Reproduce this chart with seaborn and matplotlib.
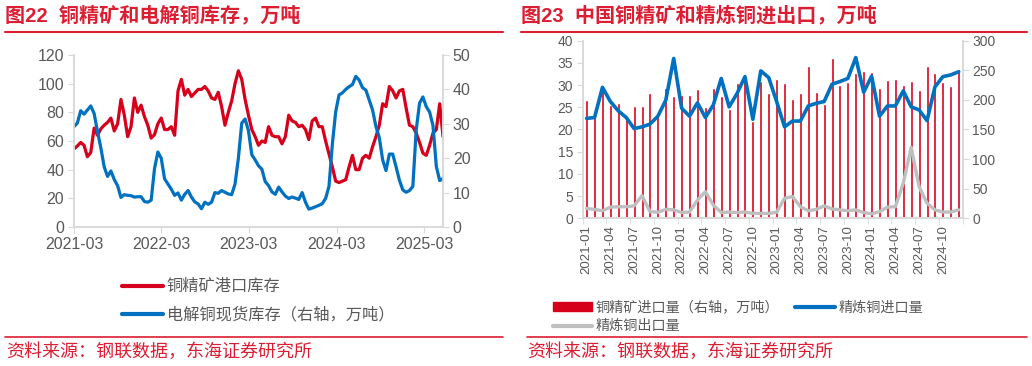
import numpy as np
import pandas as pd
import seaborn as sns
import matplotlib.pyplot as plt
import matplotlib.dates as mdates
from matplotlib.lines import Line2D
from matplotlib.patches import Patch

# ---- 图22 数据 (两周一个点, 2021-03 起) ----
port_stock = [54.5, 56.5, 59, 57, 49, 52, 69, 64, 68.5, 71, 73, 76, 67, 72, 89, 78, 63, 70, 90, 80,
              85, 77, 71, 62, 64.5, 72, 76, 68, 68, 70, 64, 95, 103, 92, 96, 91, 93.5, 96, 96, 98,
              95, 90, 89, 94, 84, 71, 80, 88, 100, 109, 103, 89, 78, 68, 63, 57, 60, 59, 70, 64,
              63, 63, 58, 63, 78, 74, 73, 70, 71, 68, 61, 74, 76, 70, 70, 60, 51, 42, 32, 31,
              32, 33, 42, 50, 40, 40, 48, 50, 48, 56, 63, 71, 86, 84, 98, 95, 90, 95, 96, 83,
              71, 70, 65.5, 59, 51.5, 50, 57, 65.5, 68, 86, 63]
spot_stock = [29.2, 30.2, 33.8, 32.8, 34.0, 35.2, 33.0, 27.8, 23.0, 17.5, 14.7, 16.3, 13.8, 12.0, 8.6, 9.4, 9.2, 9.1, 8.7, 8.8,
              8.8, 7.4, 7.2, 7.8, 17, 21.8, 20.0, 14, 12.5, 11.0, 9.2, 9.9, 7.8, 9.5, 10.6, 8.7, 7.3, 6.7, 5.3, 7.2,
              6.6, 7.2, 10.0, 9.8, 10.6, 10.1, 9.6, 9.4, 12.5, 20, 30.2, 31.4, 28, 21.0, 19.5, 17.8, 16.8, 13.2, 12.0, 10.2,
              9.5, 11.6, 10.2, 9.0, 8.3, 8.7, 8.4, 8.0, 10.0, 7.2, 5.2, 5.5, 5.9, 6.3, 6.8, 8.3, 11.8, 24, 33.5, 38.4,
              39.0, 40.0, 40.8, 41.4, 43.8, 42.7, 40.5, 39.8, 36.9, 34.0, 29.2, 26.0, 19.5, 16.4, 21.2, 21.2, 17.5, 13.6, 10.8, 10.1,
              10.6, 11.8, 28.2, 36.0, 37.8, 35.0, 33.4, 29.5, 17.6, 13.5, 14.1]
stock_dates = pd.date_range('2021-03-01', periods=len(port_stock), freq='14D')

# ---- 图23 数据 (月度, 万吨) ----
months = [f'{y}-{m:02d}' for y in range(2021, 2025) for m in range(1, 13)]
ore_import = [200, 180, 220, 192, 194, 169, 190, 190, 212, 174, 220, 206,
              209, 208, 218, 188, 220, 206, 184, 228, 232, 165, 232, 211,
              236, 229, 202, 211, 257, 214, 193, 270, 225, 231, 245, 249,
              247, 220, 233, 235, 226, 232, 217, 257, 245, 231, 224, 252]
cu_import = [22.5, 22.7, 29.5, 26.3, 24.2, 22.7, 20.2, 20.6, 21.2, 23.0, 26.6, 36.0,
             24.8, 23.0, 26.0, 22.7, 25.5, 31.5, 25.1, 28.1, 31.9, 22.3, 33.2, 31.7,
             26.3, 20.6, 21.9, 21.9, 25.3, 25.9, 26.3, 30.2, 30.8, 31.5, 36.2, 28.4,
             32.0, 23.0, 25.3, 25.3, 28.7, 25.1, 24.4, 22.0, 29.6, 31.9, 32.3, 33.0]
cu_export = [2.2, 2.0, 1.7, 2.5, 2.6, 2.6, 2.8, 5.1, 1.5, 1.35, 2.0, 1.9,
             1.3, 1.4, 4.1, 6.0, 3.0, 1.3, 1.4, 1.3, 1.4, 1.1, 1.1, 1.1,
             1.35, 4.5, 4.9, 2.6, 1.7, 2.0, 2.8, 2.1, 1.9, 1.7, 1.9, 1.3,
             1.0, 1.5, 2.5, 2.6, 7.9, 16.0, 7.1, 3.4, 1.9, 1.4, 1.4, 1.9]

RED = '#d7001b'
BLUE = '#0070c0'
GRAY = '#bfbfbf'
TXT = '#595959'
SPINE = '#d9d9d9'
TITLE_RED = '#dc1e32'

sns.set_style('white')
plt.rcParams['font.family'] = ['Liberation Sans', 'Noto Sans CJK SC']
plt.rcParams['axes.unicode_minus'] = False

fig = plt.figure(figsize=(10.32, 3.66), dpi=100)

# ---------------- 左图 ----------------
df1 = pd.DataFrame({'date': stock_dates, 'port': port_stock, 'spot': spot_stock})
ax = fig.add_axes([0.0717, 0.3798, 0.3576, 0.4699])
ax2 = ax.twinx()
sns.lineplot(data=df1, x='date', y='port', ax=ax, color=RED, lw=2.3)
sns.lineplot(data=df1, x='date', y='spot', ax=ax2, color=BLUE, lw=2.3)
ax.set_xlim(stock_dates[0], stock_dates[-1])
ax.set_ylim(0, 120)
ax2.set_ylim(0, 50)
ax.set_yticks(range(0, 121, 20))
ax2.set_yticks(range(0, 51, 10))
ax.set_xticks(pd.to_datetime(['2021-03-01', '2022-03-01', '2023-03-01', '2024-03-01', '2025-03-01']))
ax.xaxis.set_major_formatter(mdates.DateFormatter('%Y-%m'))
for a in (ax, ax2):
    a.set_xlabel('')
    a.set_ylabel('')
    a.spines['top'].set_visible(False)
    for s in ('left', 'right', 'bottom'):
        a.spines[s].set_color(SPINE)
        a.spines[s].set_linewidth(1.2)
ax.tick_params(axis='both', bottom=True, left=True, length=4, color=SPINE,
               labelcolor=TXT, labelsize=11.5, pad=3)
ax2.tick_params(axis='y', right=True, length=4, color=SPINE, labelcolor=TXT, labelsize=11.5, pad=3)

fig.legend(handles=[Line2D([], [], color=RED, lw=3), Line2D([], [], color=BLUE, lw=3)],
           labels=['铜精矿港口库存', '电解铜现货库存（右轴，万吨）'],
           loc='upper left', bbox_to_anchor=(0.112, 0.255), frameon=False,
           fontsize=11.7, labelcolor=TXT, handlelength=2.5, handletextpad=0.25,
           labelspacing=0.75, borderaxespad=0)

# ---------------- 右图 ----------------
df2 = pd.DataFrame({'idx': range(len(months)), 'month': months, 'ore': ore_import,
                    'imp': cu_import, 'exp': cu_export})
ax3 = fig.add_axes([0.5646, 0.4036, 0.3682, 0.4852])
ax4 = ax3.twinx()
sns.barplot(data=df2, x='idx', y='ore', ax=ax4, color=RED, width=0.38, saturation=1)
sns.lineplot(data=df2, x='idx', y='exp', ax=ax3, color=GRAY, lw=2.4)
sns.lineplot(data=df2, x='idx', y='imp', ax=ax3, color=BLUE, lw=2.6)
ax3.set_zorder(ax4.get_zorder() + 1)
ax3.patch.set_visible(False)
ax3.set_ylim(0, 40)
ax4.set_ylim(0, 300)
ax3.set_yticks(range(0, 41, 5))
ax4.set_yticks(range(0, 301, 50))
ax3.set_xlim(-0.5, len(months) - 0.5)
ax3.set_xticks(range(0, len(months), 3))
ax3.set_xticklabels(months[::3], rotation=90)
ax3.set_xticks(np.arange(-0.5, len(months), 3), minor=True)
for a in (ax3, ax4):
    a.set_xlabel('')
    a.set_ylabel('')
    a.spines['top'].set_visible(False)
    for s in ('left', 'right', 'bottom'):
        a.spines[s].set_color(SPINE)
        a.spines[s].set_linewidth(1.2)
ax3.tick_params(axis='x', which='major', bottom=True, length=0, labelcolor=TXT, labelsize=9.5, pad=5)
ax3.tick_params(axis='x', which='minor', bottom=True, length=4, color=SPINE)
ax3.tick_params(axis='y', left=True, length=4, color=SPINE, labelcolor=TXT, labelsize=10, pad=3)
ax4.tick_params(axis='y', right=True, length=4, color=SPINE, labelcolor=TXT, labelsize=10, pad=3)
ax4.tick_params(axis='x', bottom=False, labelbottom=False)

fig.legend(handles=[Patch(color=RED), Line2D([], [], color=GRAY, lw=3), Line2D([], [], color=BLUE, lw=3)],
           labels=['铜精矿进口量（右轴，万吨）', '精炼铜出口量', '精炼铜进口量'],
           ncol=2, loc='upper left', bbox_to_anchor=(0.530, 0.195), frameon=False,
           fontsize=10.2, labelcolor=TXT, handlelength=2.8, handleheight=0.55, handletextpad=0.25,
           labelspacing=0.35, columnspacing=1.1, borderaxespad=0)

# ---------------- 标题、分隔线、来源 ----------------
fig.text(0.005, 0.957, '图22  铜精矿和电解铜库存，万吨', color=TITLE_RED, fontsize=14.5,
         fontweight='bold', va='center', ha='left')
fig.text(0.505, 0.957, '图23  中国铜精矿和精炼铜进出口，万吨', color=TITLE_RED, fontsize=14.5,
         fontweight='bold', va='center', ha='left')
for x0, x1 in ((0.005, 0.487), (0.505, 0.995)):
    fig.add_artist(Line2D([x0, x1], [0.913, 0.913], color=TITLE_RED, lw=1.5))
for x0, x1 in ((0.005, 0.487), (0.511, 0.995)):
    fig.add_artist(Line2D([x0, x1], [0.079, 0.079], color=TITLE_RED, lw=1.2))
fig.text(0.006, 0.038, '资料来源：钢联数据，东海证券研究所', color=TITLE_RED, fontsize=13,
         va='center', ha='left')
fig.text(0.511, 0.038, '资料来源：钢联数据，东海证券研究所', color=TITLE_RED, fontsize=13,
         va='center', ha='left')

fig.savefig('out.png', dpi=100)
